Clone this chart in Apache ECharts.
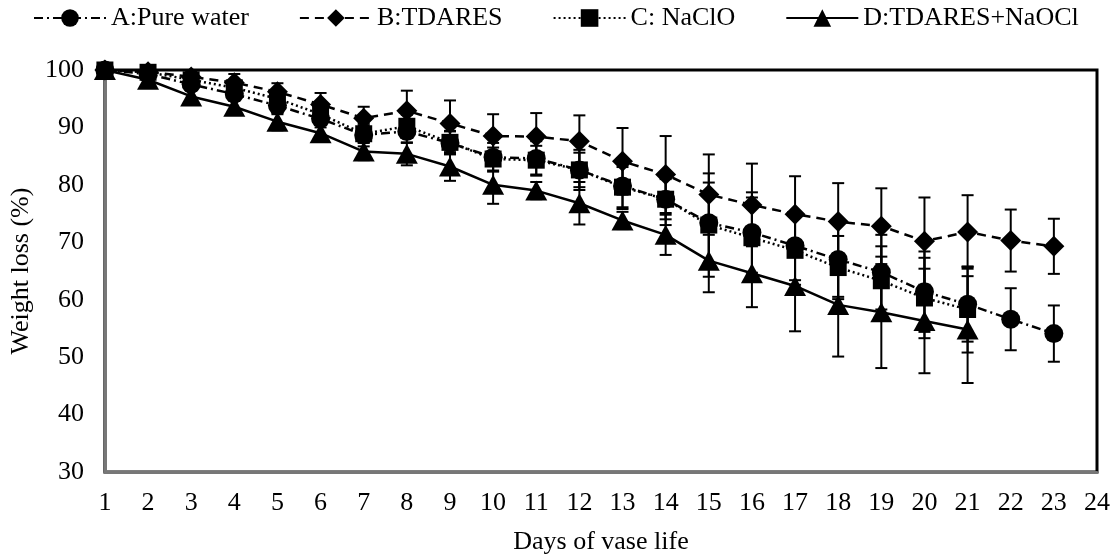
<!DOCTYPE html>
<html>
<head>
<meta charset="utf-8">
<script src="https://cdn.jsdelivr.net/npm/echarts@6/dist/echarts.min.js"></script>
<style>html,body{margin:0;padding:0;background:#fff}#c{width:1117px;height:560px}</style>
</head>
<body>
<div id="c"></div>
<script>
const days = [1,2,3,4,5,6,7,8,9,10,11,12,13,14,15,16,17,18,19,20,21,22,23];
const xTicks = [1,2,3,4,5,6,7,8,9,10,11,12,13,14,15,16,17,18,19,20,21,22,23,24];
const seriesNames = ['A:Pure water','B:TDARES','C: NaClO','D:TDARES+NaOCl'];
const valA = [100,99.3,97.5,95.8,93.8,91.5,88.7,89.3,87.3,84.8,84.6,82.6,79.8,77.5,73.4,71.7,69.4,67.0,64.8,61.4,59.2,56.6,54.1];
const valB = [100,99.7,98.8,97.8,96.2,94.0,91.6,92.9,90.7,88.5,88.4,87.6,84.1,81.8,78.3,76.5,74.9,73.6,72.8,70.2,71.8,70.3,69.3];
const valC = [100,99.6,98.3,96.9,95.0,92.3,88.9,90.2,87.4,84.5,84.3,82.6,79.6,77.5,73.0,70.8,68.6,65.6,63.3,60.3,58.3];
const valD = [100,98.3,95.4,93.6,91.0,89.0,85.8,85.4,83.2,80.0,79.0,76.8,73.8,71.3,66.8,64.6,62.4,59.1,57.8,56.3,54.8];
const errA = [0,0.5,1,1,1.5,1.5,2,2,2,2.5,3,3.5,4,4.5,7,7,6,6.5,6.5,7,6.5,5.4,4.9];
const errB = [0,0.5,1,1.5,1.5,2,2,3.5,4,3.8,4.1,4.5,5.8,6.7,7.0,7.2,6.6,6.7,6.6,7.6,6.4,5.4,4.8];
const errC = [0,0.5,1,1,1.5,1.5,1.5,2,2,2,2.5,3,3.5,3.5,9,7,6,5.5,6,7,7.5];
const errD = [0,0.5,1,1,1.5,1.5,1.5,2,2.5,3.3,1.5,3.7,1.5,3.5,5.5,5.9,7.9,9.0,9.7,9.1,9.3];

const FONT = 'Liberation Serif';
const FS = 26;
const vals = [valA,valB,valC,valD];
const errs = [errA,errB,errC,errD];
const symbols = ['circle','diamond','rect','triangle'];
const symSizes = [19,[21,21],17,[22,20]];
const dashes = [[9,4,2,4],[9,6],[2,3],'solid'];

function errRender(params, api){
  const x = api.value(0), v = api.value(1), e = api.value(2);
  if (!e) return null;
  const top = api.coord([x, v+e]);
  const bot = api.coord([x, v-e]);
  const w = 6;
  const st = {stroke:'#000', lineWidth:2};
  return {type:'group', children:[
    {type:'line', shape:{x1:top[0],y1:top[1],x2:bot[0],y2:bot[1]}, style:st},
    {type:'line', shape:{x1:top[0]-w,y1:top[1],x2:top[0]+w,y2:top[1]}, style:st},
    {type:'line', shape:{x1:bot[0]-w,y1:bot[1],x2:bot[0]+w,y2:bot[1]}, style:st}
  ]};
}

const series = [];
vals.forEach((arr,i)=>{
  series.push({
    name: seriesNames[i], type:'line',
    data: arr.map((v,j)=>[days[j],v]),
    symbol: symbols[i], symbolSize: symSizes[i],
    itemStyle:{color:'#000'},
    lineStyle:{color:'#000', width:2.5, type:dashes[i]},
    z: 3
  });
  series.push({
    name: seriesNames[i]+' err', type:'custom',
    data: arr.map((v,j)=>[days[j],v,errs[i][j]]),
    renderItem: errRender, z: 2, silent:true
  });
});

const chart = echarts.init(document.getElementById('c'));
chart.setOption({
  animation:false,
  backgroundColor:'#fff',
  legend:{
    data: seriesNames, top:0, left:28, itemWidth:72, itemHeight:22, itemGap:50,
    textStyle:{fontFamily:FONT, fontSize:FS, color:'#000'}
  },
  grid:{left:103, right:20, top:70, bottom:86, show:true, borderColor:'#000', borderWidth:3, backgroundColor:'#fff'},
  xAxis:{
    type:'value', min:xTicks[0], max:xTicks[xTicks.length-1], interval:1,
    name:'Days of vase life', nameLocation:'middle', nameGap:57,
    nameTextStyle:{fontFamily:FONT, fontSize:FS, color:'#000'},
    axisLine:{lineStyle:{color:'#777', width:3}},
    axisTick:{show:false}, splitLine:{show:false},
    axisLabel:{fontFamily:FONT, fontSize:FS, color:'#000', margin:18}
  },
  yAxis:{
    type:'value', min:30, max:100, interval:10,
    name:'Weight loss (%)', nameLocation:'middle', nameGap:60, nameRotate:90,
    nameTextStyle:{fontFamily:FONT, fontSize:FS, color:'#000'},
    axisLine:{show:true, lineStyle:{color:'#777', width:3}},
    axisTick:{show:false}, splitLine:{show:false},
    axisLabel:{fontFamily:FONT, fontSize:FS, color:'#000', margin:21}
  },
  series: series
});
</script>
</body>
</html>
